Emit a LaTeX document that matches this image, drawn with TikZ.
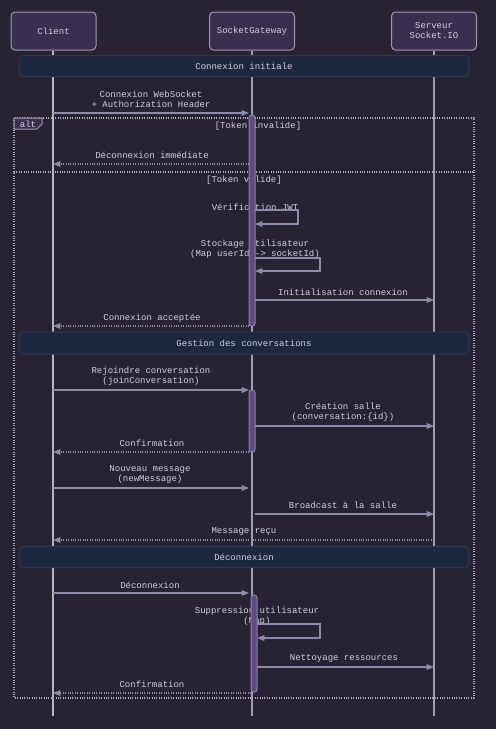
\documentclass[tikz,border=0pt]{standalone}
\usepackage{fontspec}
\setmonofont{Liberation Mono}
\usetikzlibrary{arrows.meta}
\definecolor{bg}{HTML}{272234}
\definecolor{actorfill}{HTML}{3A2F50}
\definecolor{actorline}{HTML}{A098B0}
\definecolor{notefill}{HTML}{1F2740}
\definecolor{noteline}{HTML}{2E3652}
\definecolor{actfill}{HTML}{5E4C80}
\definecolor{actline}{HTML}{8E7EB0}
\definecolor{arrowc}{HTML}{8C8CAA}
\definecolor{txt}{HTML}{D2CEDC}
\definecolor{lifec}{HTML}{B8B4C2}
\definecolor{framec}{HTML}{B0A8C0}
\begin{document}
\begin{tikzpicture}[x=0.75pt,y=-0.75pt,
  font=\ttfamily\fontsize{6.75}{7.5}\selectfont,
  actor/.style={draw=actorline,fill=actorfill,rounded corners=3pt,line width=0.75pt,text=txt,align=center,inner sep=0pt},
  note/.style={draw=noteline,fill=notefill,rounded corners=3pt,line width=0.75pt,text=txt,inner sep=0pt},
  lbl/.style={text=txt,align=center,inner sep=0pt},
  life/.style={draw=lifec,line width=0.9pt},
  act/.style={draw=actline,fill=actfill,rounded corners=2pt,line width=0.75pt},
  msg/.style={draw=arrowc,line width=0.8pt,-{Triangle[length=5.5pt,width=4.2pt]}},
  rep/.style={msg,densely dotted},
  frm/.style={draw=framec,densely dotted,line width=0.8pt}]
\fill[bg] (0,0) rectangle (496,729);
\useasboundingbox (0,0) rectangle (496,729);
% actors
\node[actor,minimum width=63.75pt,minimum height=28.5pt] (client) at (53.5,31) {Client};
\node[actor,minimum width=63.75pt,minimum height=28.5pt] (gw) at (252,31) {SocketGateway};
\node[actor,minimum width=63.75pt,minimum height=28.5pt] (srv) at (434,31) {Serveur\\Socket.IO};
% lifeline ends
\coordinate (cEnd) at (53,716);
\coordinate (gEnd) at (252,716);
\coordinate (sEnd) at (434,716);
\draw[life] (client.south -| cEnd) -- (cEnd);
\draw[life,draw=lifec!85!bg] (gw.south -| gEnd) -- (gEnd);
\draw[life,draw=lifec!85!bg] (srv.south -| sEnd) -- (sEnd);
% notes
\node[note,minimum width=337.5pt,minimum height=15.75pt] (n1) at (244,66) {Connexion initiale};
\node[note,minimum width=337.5pt,minimum height=16.5pt] (n2) at (244,343) {Gestion des conversations};
\node[note,minimum width=337.5pt,minimum height=15.75pt] (n3) at (244,557) {Déconnexion};
% alt frame
\coordinate (fTL) at (14,118);
\coordinate (fBR) at (474,698);
\draw[frm] (fTL) rectangle (fBR);
\coordinate (sepL) at (14,172);
\coordinate (sepR) at (474,172);
\draw[frm] (sepL) -- (sepR);
\draw[draw=actorline,fill=actorfill,line width=0.75pt] (14,118) -- (42,118) -- (42,124) -- (37,129) -- (14,129) -- cycle;
\node[lbl] (alt) at (28,124.5) {alt};
\node[lbl] (g1) at (258,126.5) {[Token invalide]};
\node[lbl] (g2) at (244,180.5) {[Token valide]};
% labels
\node[lbl] (t1) at (151,99.5) {Connexion WebSocket\\+ Authorization Header};
\node[lbl] (t2) at (152,155.5) {Déconnexion immédiate};
\node[lbl] (t3) at (255,207.5) {Vérification JWT};
\node[lbl] (t4) at (255,249.5) {Stockage utilisateur\\(Map userId -> socketId)};
\node[lbl] (t5) at (343,292.5) {Initialisation connexion};
\node[lbl] (t6) at (152,318.5) {Connexion acceptée};
\node[lbl] (t7) at (151,376.5) {Rejoindre conversation\\(joinConversation)};
\node[lbl] (t8) at (343,412.5) {Création salle\\(conversation:\{id\})};
\node[lbl] (t9) at (152,443.5) {Confirmation};
\node[lbl] (t10) at (150,474.5) {Nouveau message\\(newMessage)};
\node[lbl] (t11) at (343,505.5) {Broadcast à la salle};
\node[lbl] (t12) at (244,531.5) {Message reçu};
\node[lbl] (t13) at (150,585.5) {Déconnexion};
\node[lbl] (t14) at (257,616.5) {Suppression utilisateur\\(Map)};
\node[lbl] (t15) at (344,658.5) {Nettoyage ressources};
\node[lbl] (t16) at (152,684.5) {Confirmation};
% activations
\draw[act] (249,115) rectangle (255,326);
\draw[act] (249,390) rectangle (255,452);
\draw[act] (251,595) rectangle (257,692);
% message endpoints
\coordinate (c1) at (53,113); \coordinate (g1e) at (249,113);
\coordinate (g2s) at (249,164); \coordinate (c2) at (53,164);
\coordinate (l1a) at (255,210); \coordinate (l1b) at (255,224);
\coordinate (l2a) at (255,258); \coordinate (l2b) at (255,271);
\coordinate (g5) at (255,300); \coordinate (s5) at (434,300);
\coordinate (g6) at (249,326); \coordinate (c6) at (53,326);
\coordinate (c7) at (53,390); \coordinate (g7) at (249,390);
\coordinate (g8) at (255,426); \coordinate (s8) at (434,426);
\coordinate (g9) at (249,452); \coordinate (c9) at (53,452);
\coordinate (c10) at (53,488); \coordinate (g10) at (249,488);
\coordinate (g11) at (255,514); \coordinate (s11) at (434,514);
\coordinate (s12) at (434,540); \coordinate (c12) at (53,540);
\coordinate (c13) at (53,593); \coordinate (g13) at (249,593);
\coordinate (l3a) at (257,624); \coordinate (l3b) at (257,638);
\coordinate (g15) at (257,667); \coordinate (s15) at (434,667);
\coordinate (g16) at (251,693); \coordinate (c16) at (53,693);
% messages
\draw[msg] (c1) -- (g1e);
\draw[rep] (g2s) -- (c2);
\draw[msg] (l1a) -- ++(43,0) |- (l1b);
\draw[msg] (l2a) -- ++(65,0) |- (l2b);
\draw[msg] (g5) -- (s5);
\draw[rep] (g6) -- (c6);
\draw[msg] (c7) -- (g7);
\draw[msg] (g8) -- (s8);
\draw[rep] (g9) -- (c9);
\draw[msg] (c10) -- (g10);
\draw[msg] (g11) -- (s11);
\draw[rep] (s12) -- (c12);
\draw[msg] (c13) -- (g13);
\draw[msg] (l3a) -- ++(63,0) |- (l3b);
\draw[msg] (g15) -- (s15);
\draw[rep] (g16) -- (c16);
\end{tikzpicture}
\end{document}
